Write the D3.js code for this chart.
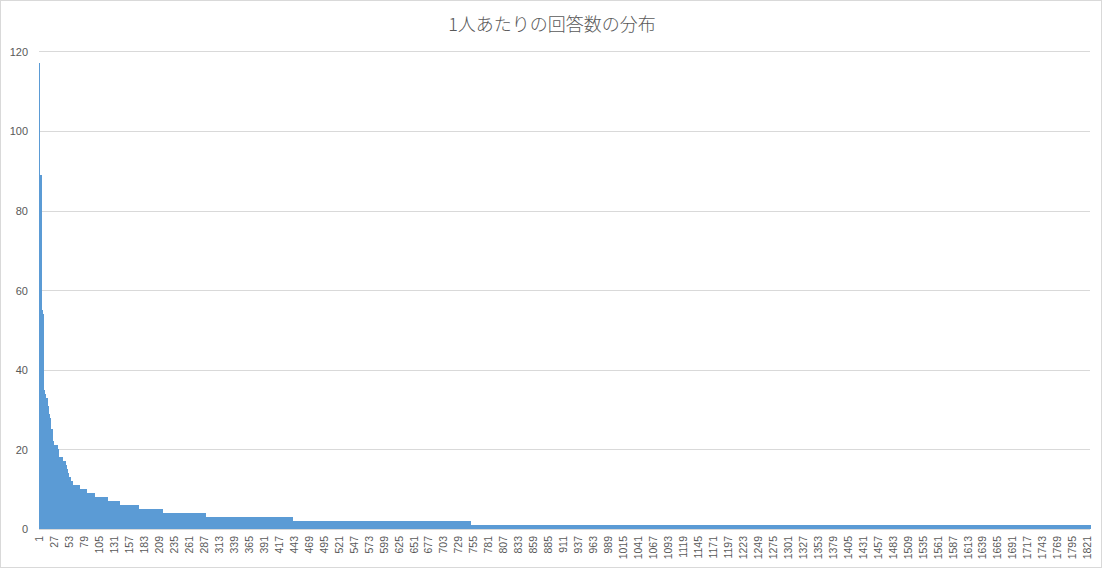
<!DOCTYPE html>
<html>
<head>
<meta charset="utf-8">
<script src="https://cdn.jsdelivr.net/npm/d3@7"></script>
<style>
  html, body { margin: 0; padding: 0; background: #fff; }
  svg { display: block; }
</style>
</head>
<body>
<script>
// Run-length encoded answers-per-person distribution (sorted descending)
const runValues  = [117, 89, 55, 54, 35, 34, 33, 31, 29, 28, 25, 22, 21, 20, 18, 17, 16, 15, 14, 13, 12, 11, 10, 9, 8, 7, 6, 5, 4, 3, 2, 1];
const runLengths = [1, 2, 2, 2, 2, 2, 3, 2, 1, 2, 4, 1, 7, 2, 7, 5, 2, 2, 1, 4, 3, 12, 13, 14, 22, 21, 33, 42, 74, 151, 309, 1077];
const xTickLabels = [1,27,53,79,105,131,157,183,209,235,261,287,313,339,365,391,417,443,469,495,521,547,573,599,625,651,677,703,729,755,781,807,833,859,885,911,937,963,989,1015,1041,1067,1093,1119,1145,1171,1197,1223,1249,1275,1301,1327,1353,1379,1405,1431,1457,1483,1509,1535,1561,1587,1613,1639,1665,1691,1717,1743,1769,1795,1821];
const yTickLabels = [0, 20, 40, 60, 80, 100, 120];
const titleText = "1人あたりの回答数の分布";

// expand runs into one value per respondent
const values = [];
runValues.forEach((v, k) => { for (let j = 0; j < runLengths[k]; j++) values.push(v); });
const categories = values.map((_, i) => i + 1);

const W = 1104, H = 570;
const svg = d3.select("body").append("svg").attr("width", W).attr("height", H);

svg.append("rect").attr("x", 0.5).attr("y", 0.5).attr("width", 1101).attr("height", 567)
  .attr("fill", "#fff").attr("stroke", "#d9d9d9");

const x = d3.scaleBand().domain(categories).range([39, 1090]).padding(0);
const y = d3.scaleLinear().domain([0, 120]).range([529, 51.3]);

// gridlines
svg.append("g").selectAll("line").data(yTickLabels.filter(d => d > 0)).join("line")
  .attr("x1", 39).attr("x2", 1090)
  .attr("y1", d => Math.round(y(d)) + 0.5).attr("y2", d => Math.round(y(d)) + 0.5)
  .attr("stroke", "#d9d9d9").attr("stroke-width", 1);

// bars
const bw = x.bandwidth();
svg.append("g").attr("shape-rendering", "crispEdges")
  .selectAll("rect").data(values).join("rect")
  .attr("x", (d, i) => x(categories[i]))
  .attr("width", bw + 0.8)
  .attr("y", d => y(d))
  .attr("height", d => y(0) - y(d))
  .attr("fill", "#5b9bd5");

// x axis line
svg.append("line").attr("x1", 39).attr("x2", 1090).attr("y1", Math.round(y(0)) + 0.5).attr("y2", Math.round(y(0)) + 0.5)
  .attr("stroke", "#d9d9d9").attr("stroke-width", 1);

// y axis labels
const yAxis = d3.axisLeft(y).tickValues(yTickLabels).tickSize(0).tickPadding(0);
const gy = svg.append("g").attr("transform", "translate(28,0)").call(yAxis);
gy.select(".domain").remove();
gy.selectAll("text").attr("fill", "#595959")
  .style("font-family", "'Liberation Sans', Arial, sans-serif").style("font-size", "11px")
  .attr("dy", "0.35em");

// x axis labels
const xAxis = d3.axisBottom(x).tickValues(xTickLabels).tickSize(0).tickPadding(0);
const gx = svg.append("g").attr("transform", `translate(0,${y(0)})`).call(xAxis);
gx.select(".domain").remove();
gx.selectAll("text")
  .attr("fill", "#595959")
  .style("font-family", "'Liberation Sans', Arial, sans-serif").style("font-size", "10.5px")
  .attr("text-anchor", "end")
  .attr("y", 0).attr("x", 0)
  .attr("dy", "0.35em")
  .attr("transform", "translate(0,7) rotate(-90)");

// title
svg.append("text").attr("x", 552).attr("y", 31).attr("text-anchor", "middle")
  .attr("fill", "#595959")
  .style("font-family", "'Noto Sans CJK JP', sans-serif").style("font-size", "18px")
  .style("font-weight", "300")
  .text(titleText);
</script>
</body>
</html>
